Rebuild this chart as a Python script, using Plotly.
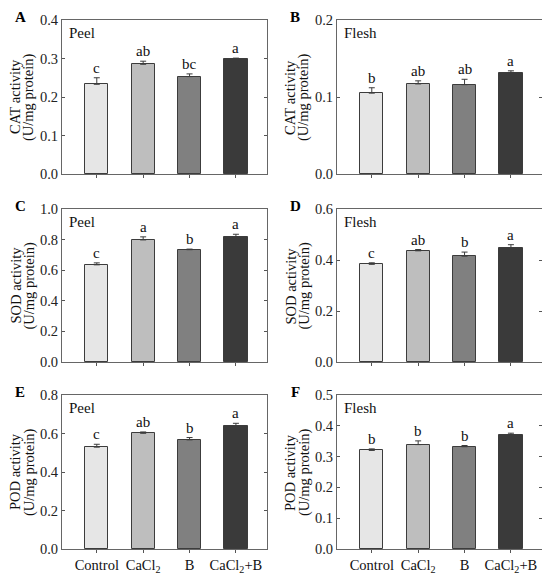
import plotly.graph_objects as go

treatments = ["Control", "CaCl<sub>2</sub>", "B", "CaCl<sub>2</sub>+B"]
bar_colors = ["#e6e6e6", "#bebebe", "#808080", "#3a3a3a"]

cat_peel = [0.233, 0.285, 0.253, 0.299]
cat_peel_err = [0.017, 0.008, 0.007, 0.002]
cat_peel_sig = ["c", "ab", "bc", "a"]

cat_flesh = [0.105, 0.117, 0.116, 0.131]
cat_flesh_err = [0.007, 0.004, 0.007, 0.003]
cat_flesh_sig = ["b", "ab", "ab", "a"]

sod_peel = [0.635, 0.798, 0.734, 0.818]
sod_peel_err = [0.013, 0.020, 0.004, 0.017]
sod_peel_sig = ["c", "a", "b", "a"]

sod_flesh = [0.383, 0.436, 0.415, 0.448]
sod_flesh_err = [0.006, 0.005, 0.016, 0.012]
sod_flesh_sig = ["c", "ab", "b", "a"]

pod_peel = [0.529, 0.601, 0.567, 0.639]
pod_peel_err = [0.015, 0.007, 0.012, 0.014]
pod_peel_sig = ["c", "ab", "b", "a"]

pod_flesh = [0.320, 0.339, 0.332, 0.371]
pod_flesh_err = [0.005, 0.012, 0.004, 0.005]
pod_flesh_sig = ["b", "b", "b", "a"]

panels = [
    ("A", "Peel", "CAT activity", cat_peel, cat_peel_err, cat_peel_sig, 0.4, 0.1),
    ("B", "Flesh", "CAT activity", cat_flesh, cat_flesh_err, cat_flesh_sig, 0.2, 0.1),
    ("C", "Peel", "SOD activity", sod_peel, sod_peel_err, sod_peel_sig, 1.0, 0.2),
    ("D", "Flesh", "SOD activity", sod_flesh, sod_flesh_err, sod_flesh_sig, 0.6, 0.2),
    ("E", "Peel", "POD activity", pod_peel, pod_peel_err, pod_peel_sig, 0.8, 0.2),
    ("F", "Flesh", "POD activity", pod_flesh, pod_flesh_err, pod_flesh_sig, 0.5, 0.1),
]
unit_label = "(U/mg protein)"

# page body has an 8px default margin; lay out in reference pixels minus that offset
OFF = 8
W, H = 550 - OFF, 577 - OFF
x_px = [(62, 267), (337, 542)]
y_px = [(20, 174), (209, 362), (395, 549)]


def px_x(p):
    return (p - OFF) / W


def px_y(p):
    return 1 - (p - OFF) / H


FONT = "Liberation Serif, Times New Roman, serif"
FS = 14.5
fig = go.Figure()
positions = [0, 1, 2, 3]

for i, (letter, tissue, ytitle, vals, errs, sig, ymax, dtick) in enumerate(panels):
    row, col = divmod(i, 2)
    n = i + 1
    xa = "x" if n == 1 else f"x{n}"
    ya = "y" if n == 1 else f"y{n}"
    fig.add_trace(go.Bar(
        x=positions, y=vals, width=0.5,
        marker=dict(color=bar_colors, line=dict(color="#3c3c3c", width=1)),
        error_y=dict(type="data", symmetric=False, array=errs, arrayminus=[0] * len(errs),
                     color="#3c3c3c", thickness=1, width=3),
        xaxis=xa, yaxis=ya, showlegend=False,
    ))
    for p, v, e, s in zip(positions, vals, errs, sig):
        fig.add_annotation(x=p, y=v + e, xref=xa, yref=ya, text=s, showarrow=False,
                           yanchor="bottom", yshift=0,
                           font=dict(family=FONT, size=15, color="#111111"))
    x0, x1 = x_px[col]
    y0, y1 = y_px[row]
    xd = [px_x(x0), px_x(x1)]
    yd = [px_y(y1), px_y(y0)]
    axkey = "xaxis" if n == 1 else f"xaxis{n}"
    aykey = "yaxis" if n == 1 else f"yaxis{n}"
    bottom = row == 2
    fig.layout[axkey] = dict(
        domain=xd, anchor=ya, range=[-0.75, 3.67], automargin=False,
        tickvals=positions, ticktext=treatments, showticklabels=bottom,
        ticks="outside", ticklen=3, tickcolor="#555555",
        showline=True, linecolor="#666666", linewidth=1, mirror=True,
        showgrid=False, zeroline=False,
        tickfont=dict(family=FONT, size=FS, color="#111111"),
    )
    fig.layout[aykey] = dict(
        domain=yd, anchor=xa, range=[0, ymax], dtick=dtick, tickformat=".1f", automargin=False,
        ticks="inside", ticklen=3, tickcolor="#555555",
        showline=True, linecolor="#666666", linewidth=1, mirror="ticks",
        showgrid=False, zeroline=False,
        tickfont=dict(family=FONT, size=FS, color="#222222"),
    )
    ymid = px_y((y0 + y1) / 2)
    fig.add_annotation(x=px_x(x0 - 47), y=ymid, xref="paper", yref="paper", text=ytitle,
                       textangle=-90, showarrow=False, xanchor="center", yanchor="middle",
                       font=dict(family=FONT, size=FS, color="#111111"))
    fig.add_annotation(x=px_x(x0 - 33), y=ymid, xref="paper", yref="paper", text=unit_label,
                       textangle=-90, showarrow=False, xanchor="center", yanchor="middle",
                       font=dict(family=FONT, size=FS, color="#111111"))
    fig.add_annotation(x=0.025, y=1 - 13 / 154, xref=f"{xa} domain", yref=f"{ya} domain",
                       text=tissue, showarrow=False, xanchor="left", yanchor="middle",
                       font=dict(family=FONT, size=15, color="#111111"))
    fig.add_annotation(x=px_x(x0 - 42), y=px_y(y0 - 3), xref="paper", yref="paper",
                       text=f"<b>{letter}</b>", showarrow=False, xanchor="center", yanchor="middle",
                       font=dict(family=FONT, size=15, color="#000000"))

fig.update_layout(
    width=W, height=H, margin=dict(l=0, r=0, t=0, b=0, autoexpand=False),
    paper_bgcolor="white", plot_bgcolor="white", bargap=0,
)
fig.write_html("out.html")
